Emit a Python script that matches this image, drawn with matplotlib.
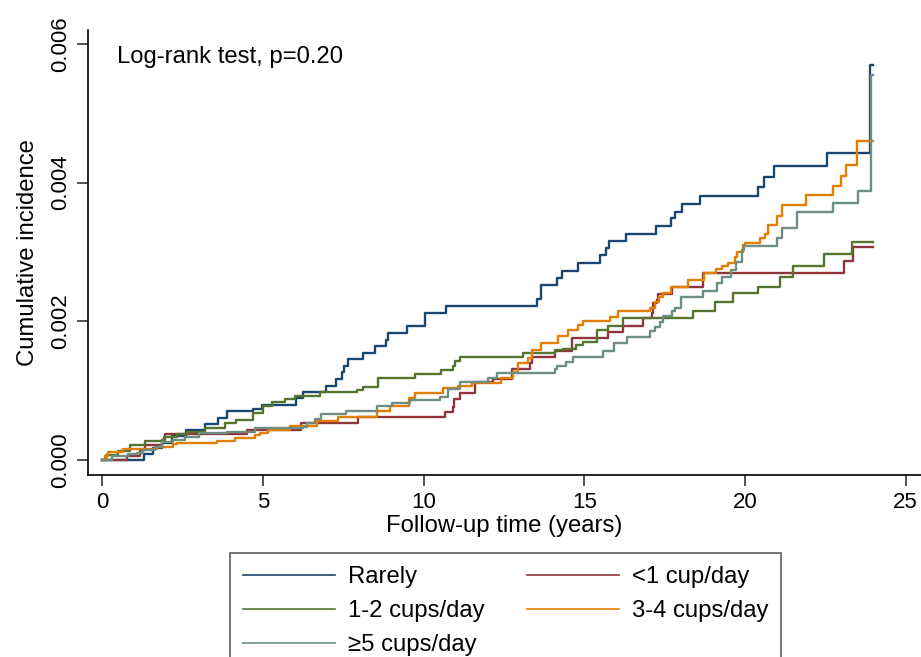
import matplotlib
matplotlib.use('Agg')
import matplotlib.pyplot as plt
from matplotlib.lines import Line2D

plt.rcParams['font.family'] = ['Liberation Sans', 'DejaVu Sans']

# step times (years) and cumulative incidence (x 1e-3)
rarely_t = [0, 1.29, 1.58, 1.85, 2.17, 2.60, 3.19, 3.60, 3.88, 4.69, 4.97, 6.02, 6.24, 6.96, 7.27,
            7.46, 7.52, 7.64, 8.11, 8.48, 8.83, 8.89, 9.48, 10.04, 10.69, 13.53, 13.65, 14.15,
            14.30, 14.80, 15.49, 15.67, 15.77, 16.30, 17.23, 17.70, 17.82, 18.04, 18.60, 20.41,
            20.59, 20.90, 22.55, 23.89, 23.98]
rarely_y = [0, 0.087, 0.173, 0.245, 0.346, 0.433, 0.519, 0.606, 0.707, 0.736, 0.794, 0.895, 0.981,
            1.068, 1.169, 1.270, 1.356, 1.457, 1.544, 1.645, 1.732, 1.833, 1.934, 2.121, 2.222,
            2.323, 2.525, 2.626, 2.727, 2.843, 2.958, 3.059, 3.160, 3.261, 3.377, 3.492, 3.579,
            3.694, 3.810, 3.939, 4.084, 4.242, 4.430, 5.700, 5.700]

lt1_t = [0, 0.77, 1.17, 1.33, 1.85, 1.95, 4.50, 6.18, 7.95, 10.66, 10.91, 10.94, 11.13, 11.60,
         12.16, 12.75, 13.31, 13.37, 14.09, 14.62, 15.74, 16.20, 16.82, 17.10, 17.13, 17.26,
         17.29, 17.73, 18.69, 23.08, 23.37, 23.98]
lt1_y = [0, 0.058, 0.144, 0.216, 0.289, 0.375, 0.440, 0.530, 0.625, 0.697, 0.769, 0.876, 0.962,
         1.126, 1.169, 1.309, 1.404, 1.491, 1.573, 1.756, 1.851, 1.934, 2.045, 2.117, 2.261,
         2.309, 2.395, 2.501, 2.694, 2.876, 3.078, 3.078]

c12_t = [0, 0.11, 0.49, 0.86, 1.33, 1.92, 2.32, 2.63, 3.19, 3.82, 4.16, 4.69, 5.00, 5.28, 5.68,
         5.99, 6.77, 7.92, 8.11, 8.58, 9.73, 10.54, 10.91, 10.97, 11.13, 13.09, 14.09, 14.34,
         14.74, 14.96, 15.39, 15.74, 16.21, 18.38, 19.06, 19.62, 20.40, 21.09, 21.48, 22.46,
         23.32, 23.99]
c12_y = [0, 0.072, 0.134, 0.216, 0.281, 0.332, 0.375, 0.411, 0.462, 0.534, 0.584, 0.678, 0.772,
         0.837, 0.880, 0.924, 0.974, 1.010, 1.053, 1.183, 1.241, 1.291, 1.356, 1.429, 1.486,
         1.544, 1.587, 1.602, 1.652, 1.707, 1.876, 1.934, 2.042, 2.150, 2.273, 2.410, 2.501,
         2.645, 2.804, 2.973, 3.150, 3.150]

c34_t = [0, 0.08, 0.17, 0.64, 1.70, 2.20, 2.32, 3.57, 4.13, 4.75, 4.91, 5.15, 5.84, 6.68, 7.33,
         8.55, 8.95, 9.54, 9.73, 10.60, 11.07, 11.50, 12.41, 12.78, 12.93, 13.25, 13.37, 13.65,
         14.18, 14.49, 14.80, 14.96, 15.80, 16.05, 17.04, 17.20, 17.32, 17.45, 17.70, 18.23,
         18.72, 19.10, 19.28, 19.47, 19.69, 19.75, 19.94, 20.00, 20.47, 20.62, 20.72, 20.99,
         21.15, 21.91, 22.74, 22.99, 23.15, 23.49, 23.99]
c34_y = [0, 0.065, 0.115, 0.159, 0.188, 0.231, 0.245, 0.278, 0.313, 0.361, 0.394, 0.440, 0.491,
         0.556, 0.625, 0.700, 0.779, 0.890, 0.960, 1.035, 1.068, 1.111, 1.183, 1.274, 1.400,
         1.472, 1.587, 1.693, 1.789, 1.876, 1.948, 2.010, 2.063, 2.150, 2.193, 2.280, 2.352,
         2.410, 2.489, 2.597, 2.694, 2.756, 2.799, 2.847, 2.934, 3.001, 3.102, 3.131, 3.199,
         3.261, 3.391, 3.521, 3.670, 3.814, 3.958, 4.102, 4.257, 4.593, 4.593]

c5_t = [0, 0.30, 0.80, 1.08, 1.26, 1.64, 1.85, 2.20, 2.57, 3.01, 3.88, 4.75, 6.24, 6.37, 6.62,
        6.80, 7.58, 8.54, 9.01, 9.57, 10.51, 10.76, 11.13, 12.00, 12.28, 14.09, 14.15, 14.43,
        14.65, 15.58, 15.92, 16.33, 17.04, 17.20, 17.35, 17.45, 17.73, 17.82, 18.01, 18.69,
        19.13, 19.28, 19.56, 19.72, 19.91, 19.97, 20.99, 21.15, 21.62, 22.74, 23.52, 23.92, 23.99]
c5_y = [0, 0.058, 0.087, 0.108, 0.144, 0.188, 0.253, 0.289, 0.336, 0.390, 0.411, 0.455, 0.483,
        0.530, 0.587, 0.657, 0.707, 0.772, 0.818, 0.866, 0.913, 1.020, 1.118, 1.179, 1.255,
        1.313, 1.356, 1.407, 1.486, 1.573, 1.681, 1.779, 1.861, 1.919, 1.991, 2.071, 2.150,
        2.189, 2.352, 2.431, 2.554, 2.633, 2.742, 2.850, 3.023, 3.081, 3.199, 3.343, 3.569,
        3.704, 3.872, 5.556, 5.556]

labels = ['Rarely', '<1 cup/day', '1-2 cups/day', '3-4 cups/day', '\u22655 cups/day']
colors = ['#1a476f', '#90353b', '#55752f', '#e37e00', '#6e8e84']
series = [(rarely_t, rarely_y), (lt1_t, lt1_y), (c12_t, c12_y), (c34_t, c34_y), (c5_t, c5_y)]

fig = plt.figure(figsize=(9.21, 6.57), dpi=100)
ax = fig.add_axes([88 / 921, 1 - 475 / 657, 1 - 88 / 921, (475 - 30) / 657])

for (t, y), c in zip(series, colors):
    ax.plot(t, [v * 1e-3 for v in y], drawstyle='steps-post', color=c, lw=1.7)

ax.set_xlim(-0.45, 25.48)
ax.set_ylim(-0.000216, 0.0062)
ax.set_xticks([0, 5, 10, 15, 20, 25])
ax.set_yticks([0, 0.002, 0.004, 0.006])
ax.set_yticklabels(['0.000', '0.002', '0.004', '0.006'], rotation=90, va='center')
ax.tick_params(labelsize=16, length=8, width=1.2, color='#333333', pad=4)
for s in ['top', 'right']:
    ax.spines[s].set_visible(False)
for s in ['left', 'bottom']:
    ax.spines[s].set_linewidth(1.2)
ax.set_xlabel('Follow-up time (years)', fontsize=17.2, labelpad=2)
ax.set_ylabel('Cumulative incidence', fontsize=17.2, labelpad=8)
ax.text(0.45, 0.005815, 'Log-rank test, p=0.20', fontsize=17.2, va='center', ha='left')

# legend filled row by row like the original (matplotlib fills by column)
handles = [Line2D([], [], color=c, lw=1.2) for c in colors]
order = [0, 2, 4, 1, 3]
leg = fig.legend([handles[i] for i in order], [labels[i] for i in order], ncol=2,
                 loc='upper left', bbox_to_anchor=(230 / 921, 1 - 553 / 657), borderaxespad=0,
                 fontsize=17.2, frameon=True, fancybox=False, handlelength=3.85,
                 handletextpad=0.55, columnspacing=1.75, labelspacing=0.5, borderpad=0.55)
leg.get_frame().set_edgecolor('#333333')
leg.get_frame().set_linewidth(1.2)

fig.savefig('out.png', dpi=100)
